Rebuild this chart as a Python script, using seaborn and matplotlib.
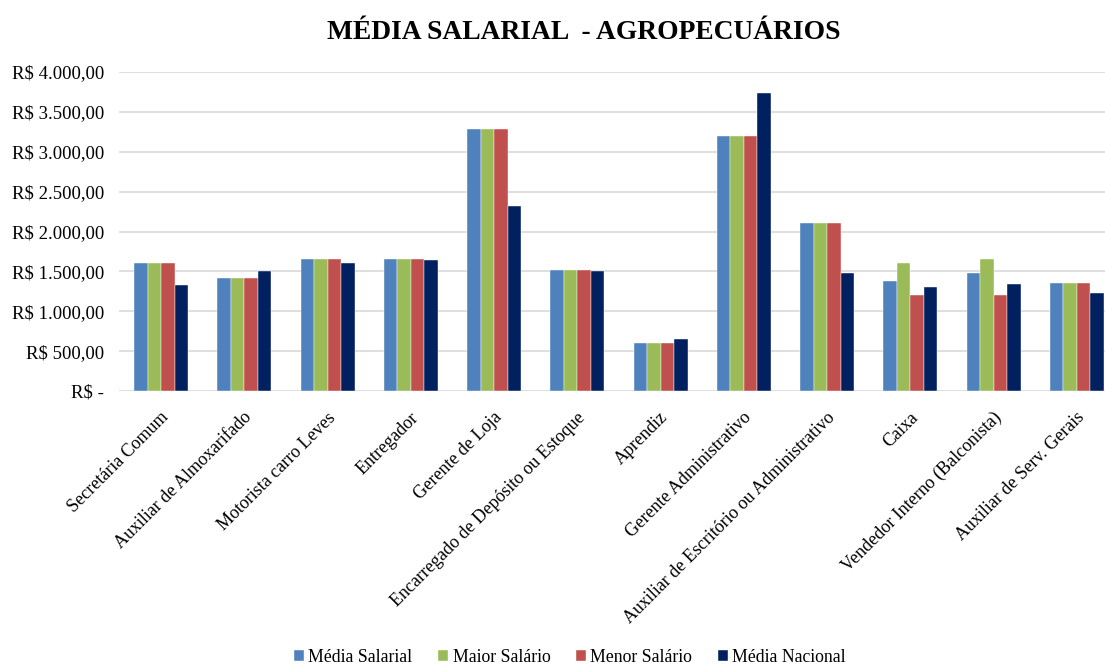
import matplotlib
matplotlib.use("Agg")
import matplotlib.pyplot as plt
import matplotlib.transforms as mtransforms
import seaborn as sns
import pandas as pd
from matplotlib.ticker import FuncFormatter

categories = ["Secretária Comum", "Auxiliar de Almoxarifado", "Motorista carro Leves",
              "Entregador", "Gerente de Loja", "Encarregado de Depósito ou Estoque",
              "Aprendiz", "Gerente Administrativo", "Auxiliar de Escritório ou Administrativo",
              "Caixa", "Vendedor Interno (Balconista)", "Auxiliar de Serv. Gerais"]
media_salarial = [1600, 1420, 1650, 1650, 3280, 1520, 600, 3200, 2110, 1375, 1480, 1360]
maior_salario = [1600, 1420, 1650, 1650, 3280, 1520, 600, 3200, 2110, 1600, 1650, 1360]
menor_salario = [1600, 1420, 1650, 1650, 3280, 1520, 600, 3200, 2110, 1200, 1200, 1360]
media_nacional = [1335, 1500, 1610, 1640, 2320, 1500, 650, 3740, 1480, 1310, 1345, 1235]
series_names = ["Média Salarial", "Maior Salário", "Menor Salário", "Média Nacional"]
colors = ["#4F81BD", "#9BBB59", "#C0504D", "#002060"]

rows = []
for name, vals in zip(series_names, [media_salarial, maior_salario, menor_salario, media_nacional]):
    for c, v in zip(categories, vals):
        rows.append({"Cargo": c, "Série": name, "Valor": v})
df = pd.DataFrame(rows)

sns.set_theme(style="white")
plt.rcParams["font.family"] = ["Liberation Serif", "DejaVu Serif"]
plt.rcParams["text.color"] = "black"

fig = plt.figure(figsize=(11.05, 6.66), dpi=100)
ax = fig.add_axes([119.4 / 1105, 275 / 666, 999.2 / 1105, 319 / 666])
sns.barplot(data=df, x="Cargo", y="Valor", hue="Série", palette=colors,
            width=0.65, ax=ax, errorbar=None, saturation=1, legend=True,
            edgecolor="white", linewidth=0.3)

ax.set_ylim(0, 4000)
ax.set_xlim(-0.5, len(categories) - 0.5)
ax.set_yticks(range(0, 4001, 500))

def fmt(v, pos):
    if v == 0:
        return "R$ -"
    s = f"{v:,.2f}".replace(",", "X").replace(".", ",").replace("X", ".")
    return "R$ " + s

ax.yaxis.set_major_formatter(FuncFormatter(fmt))
ax.yaxis.grid(True, color="#D9D9D9", linewidth=1.2)
ax.set_axisbelow(True)
for s in ax.spines.values():
    s.set_visible(False)
ax.tick_params(axis="y", labelsize=13.5, length=0, pad=11, colors="black")
ax.tick_params(axis="x", labelsize=13, length=0, pad=13, colors="black")
ax.set_xlabel("")
ax.set_ylabel("")
shift = mtransforms.ScaledTranslation(-1 / 100, 0, fig.dpi_scale_trans)
for lab in ax.get_xticklabels():
    lab.set_rotation(45)
    lab.set_ha("right")
    lab.set_rotation_mode("anchor")
    lab.set_transform(lab.get_transform() + shift)

ax.set_title("MÉDIA SALARIAL  - AGROPECUÁRIOS", fontsize=19.8, fontweight="bold",
             color="black", x=(584 - 119.4) / 999.2, y=1.0, pad=24)

leg = ax.legend(loc="center", bbox_to_anchor=((570 - 119.4) / 999.2, (666 - 657 - 275) / 319),
                ncol=4, frameon=False,
                prop={"family": "Liberation Serif", "size": 12.8},
                handlelength=0.55, handleheight=0.55,
                handletextpad=0.25, columnspacing=1.45)
for t in leg.get_texts():
    t.set_color("black")

fig.savefig("out.png", dpi=100)
